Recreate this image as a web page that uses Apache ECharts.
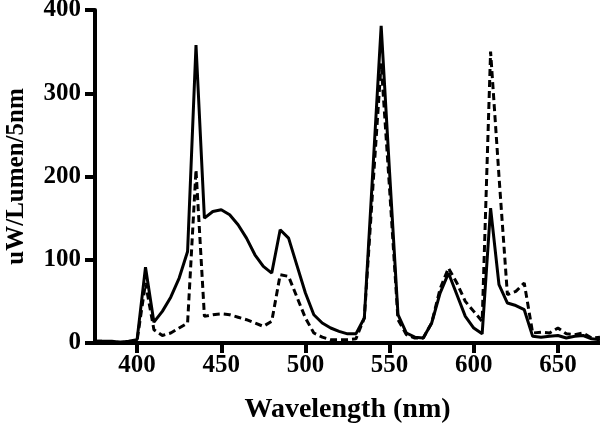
<!DOCTYPE html>
<html>
<head>
<meta charset="utf-8">
<script src="https://cdn.jsdelivr.net/npm/echarts@6/dist/echarts.min.js"></script>
<style>
  html, body { margin: 0; padding: 0; background: #fff; }
  #chart { width: 600px; height: 423px; }
</style>
</head>
<body>
<div id="chart"></div>
<script>
  // wavelength samples, 5 nm steps
  const wavelengths = [375, 380, 385, 390, 395, 400, 405, 410, 415, 420, 425, 430, 435, 440, 445, 450,
    455, 460, 465, 470, 475, 480, 485, 490, 495, 500, 505, 510, 515, 520, 525, 530, 535, 540, 545, 550,
    555, 560, 565, 570, 575, 580, 585, 590, 595, 600, 605, 610, 615, 620, 625, 630, 635, 640, 645, 650,
    655, 660, 665, 670, 675]

  const solidValues = [2, 2, 2, 1, 2, 4, 91, 25, 38, 55, 78, 110, 358, 150, 158, 160,
    154, 142, 126, 106, 92, 84, 136, 126, 93, 60, 34, 24, 18, 14, 11, 11, 30, 205, 381, 205,
    34, 12, 7, 6, 24, 60, 84, 58, 32, 18, 11, 162, 70, 48, 45, 40, 8, 7, 8, 9,
    6, 8, 9, 5, 4]

  const dashedValues = [2, 2, 1, 1, 1, 3, 72, 16, 9, 12, 18, 24, 208, 32, 34, 35,
    34, 31, 28, 24, 20, 26, 82, 80, 55, 30, 12, 7, 4, 4, 4, 5, 30, 185, 336, 185,
    28, 10, 6, 6, 24, 65, 90, 72, 50, 38, 26, 350, 200, 58, 62, 72, 12, 13, 12, 18,
    11, 10, 12, 6, 7]

  const xTicks = [400, 450, 500, 550, 600, 650]

  const fontFamily = '"Liberation Serif", "Times New Roman", serif'

  const toPairs = (vals) => wavelengths.map((w, i) => [w, vals[i]])

  const chart = echarts.init(document.getElementById('chart'), null, { renderer: 'canvas' })
  const option = {
    animation: false,
    backgroundColor: '#fff',
    grid: {
      left: 95,
      right: 0,
      top: 10,
      bottom: 80,
      outerBoundsMode: 'none'
    },
    xAxis: {
      type: 'value',
      min: 375,
      max: 675,
      name: 'Wavelength (nm)',
      nameLocation: 'middle',
      nameGap: 53,
      nameTextStyle: { color: '#000', fontFamily: fontFamily, fontWeight: 'bold', fontSize: 28 },
      splitLine: { show: false },
      axisLine: { lineStyle: { color: '#000', width: 4 } },
      axisTick: {
        customValues: xTicks,
        length: 10,
        lineStyle: { color: '#000', width: 4 }
      },
      axisLabel: {
        customValues: xTicks,
        margin: 10,
        color: '#000',
        fontFamily: fontFamily,
        fontWeight: 'bold',
        fontSize: 25
      }
    },
    yAxis: {
      type: 'value',
      min: 0,
      max: 400,
      interval: 100,
      name: 'uW/Lumen/5nm',
      nameLocation: 'middle',
      nameGap: 66,
      nameTextStyle: { color: '#000', fontFamily: fontFamily, fontWeight: 'bold', fontSize: 25 },
      splitLine: { show: false },
      axisLine: { show: true, lineStyle: { color: '#000', width: 4 } },
      axisTick: { show: true, length: 10, lineStyle: { color: '#000', width: 4 } },
      axisLabel: {
        margin: 14,
        color: '#000',
        fontFamily: fontFamily,
        fontWeight: 'bold',
        fontSize: 25
      }
    },
    series: [
      {
        name: 'solid',
        type: 'line',
        data: toPairs(solidValues),
        symbol: 'none',
        lineStyle: { color: '#000', width: 3 },
        z: 3
      },
      {
        name: 'dashed',
        type: 'line',
        data: toPairs(dashedValues),
        symbol: 'none',
        lineStyle: { color: '#000', width: 3, type: [7, 4] },
        z: 2
      }
    ]
  }
  chart.setOption(option)
</script>
</body>
</html>
